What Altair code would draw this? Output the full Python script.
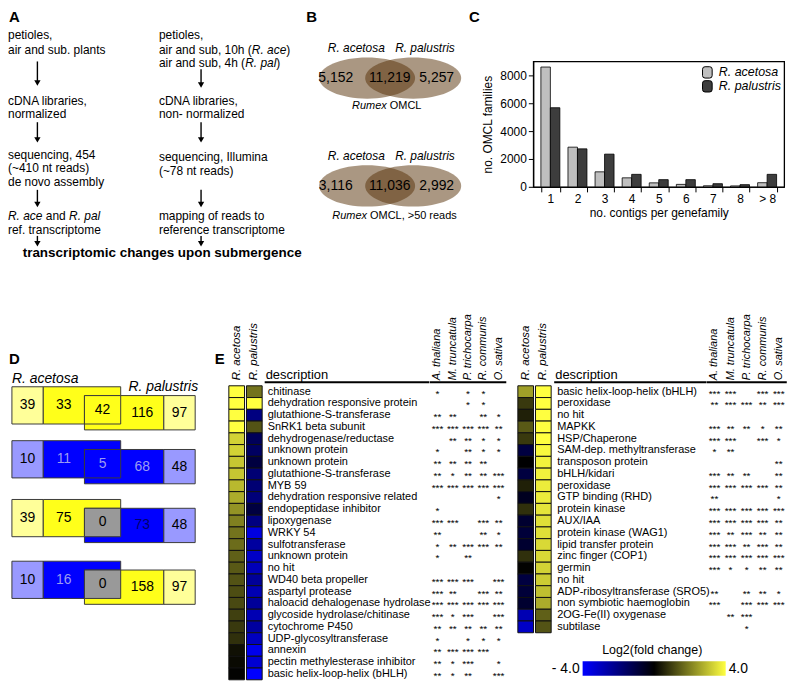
import altair as alt
import pandas as pd

FONT = "Liberation Sans"
K = 0.985          # reference pixel -> chart pixel
ROW = 12 * K       # table row height

# ====================== DATA ======================
# Panel A (flow chart text: (segment, italic))
flow_left = [
    [("petioles,", 0)],
    [("air and sub. plants", 0)],
    [("cDNA libraries,", 0)],
    [("normalized", 0)],
    [("sequencing, 454", 0)],
    [("(~410 nt reads)", 0)],
    [("de novo assembly", 0)],
    [("R. ace", 1), (" and ", 0), ("R. pal", 1)],
    [("ref. transcriptome", 0)],
]
flow_right = [
    [("petioles,", 0)],
    [("air and sub, 10h (", 0), ("R. ace", 1), (")", 0)],
    [("air and sub, 4h (", 0), ("R. pal", 1), (")", 0)],
    [("cDNA libraries,", 0)],
    [("non- normalized", 0)],
    [("sequencing, Illumina", 0)],
    [("(~78 nt reads)", 0)],
    [("mapping of reads to", 0)],
    [("reference transcriptome", 0)],
]
flow_result = "transcriptomic changes upon submergence"

# Panel B
venn_species = ["R. acetosa", "R. palustris"]
venn_counts = [["5,152", "11,219", "5,257"], ["3,116", "11,036", "2,992"]]
venn_titles = [[("Rumex", 1), (" OMCL", 0)], [("Rumex", 1), (" OMCL, >50 reads", 0)]]

# Panel C
contig_bins = ["1", "2", "3", "4", "5", "6", "7", "8", "> 8"]
fam_acetosa = [8600, 2850, 1080, 650, 290, 180, 80, 70, 300]
fam_palustris = [5680, 2730, 2350, 900, 520, 520, 230, 160, 900]

# Panel D
d_counts = [[39, 33, 42, 116, 97], [10, 11, 5, 68, 48], [39, 75, 0, 73, 48], [10, 16, 0, 158, 97]]
d_direction = [("up", "up"), ("down", "down"), ("up", "down"), ("down", "up")]

# Panel E
species5 = ["A. thaliana", "M. truncatula", "P. trichocarpa", "R. communis", "O. sativa"]
left_desc = [
    "chitinase", "dehydration responsive protein", "glutathione-S-transferase", "SnRK1 beta subunit",
    "dehydrogenase/reductase", "unknown protein", "unknown protein", "glutathione-S-transferase",
    "MYB 59", "dehydration responsive related", "endopeptidase inhibitor", "lipoxygenase", "WRKY 54",
    "sulfotransferase", "unknown protein", "no hit", "WD40 beta propeller", "aspartyl protease",
    "haloacid dehalogenase hydrolase", "glycoside hydrolase/chitinase", "cytochrome P450",
    "UDP-glycosyltransferase", "annexin", "pectin methylesterase inhibitor", "basic helix-loop-helix (bHLH)",
]
left_acetosa = [4.0, 4.0, 4.0, 4.0, 3.3, 3.3, 3.1, 3.1, 2.9, 2.7, 2.3, 2.0, 1.8,
                1.7, 1.5, 1.4, 1.3, 1.2, 1.15, 1.0, 0.9, 0.75, 0.25, 0.15, 0.05]
left_palustris = [1.8, 4.0, -2.0, 1.3, -1.4, -1.5, -1.0, -1.8, -1.8, -1.9, -1.0, -2.0, -3.5,
                  -2.5, -3.1, -2.9, -2.4, -2.8, -2.4, -2.8, -2.5, -3.0, -3.7, -3.3, -4.0]
left_stars = [
    ["*", "", "*", "*", ""], ["", "", "*", "*", ""], ["**", "**", "", "**", "*"],
    ["***", "***", "***", "***", "**"], ["", "**", "**", "*", "*"], ["*", "", "**", "*", "*"],
    ["**", "**", "**", "**", ""], ["**", "*", "**", "**", "***"], ["***", "***", "***", "***", "***"],
    ["", "", "", "", "*"], ["*", "", "", "", ""], ["***", "***", "", "***", "**"],
    ["**", "", "", "**", "*"], ["*", "**", "***", "***", "**"], ["*", "", "**", "", ""],
    ["", "", "", "", ""], ["***", "***", "***", "", "***"], ["***", "**", "", "***", "**"],
    ["***", "***", "***", "***", "***"], ["***", "*", "***", "", "***"], ["**", "**", "**", "**", "**"],
    ["*", "", "*", "*", "*"], ["**", "***", "***", "***", ""], ["**", "*", "***", "", "*"],
    ["**", "*", "**", "", "***"],
]
right_desc = [
    "basic helix-loop-helix (bHLH)", "peroxidase", "no hit", "MAPKK", "HSP/Chaperone",
    "SAM-dep. methyltransferase", "transposon protein", "bHLH/kidari", "peroxidase",
    "GTP binding (RHD)", "protein kinase", "AUX/IAA", "protein kinase (WAG1)", "lipid transfer protein",
    "zinc finger (COP1)", "germin", "no hit", "ADP-ribosyltransferase (SRO5)",
    "non symbiotic haemoglobin", "2OG-Fe(II) oxygenase", "subtilase",
]
right_acetosa = [2.5, 0.9, 0.5, 1.4, 0.9, -1.0, 0.0, -1.0, 0.5, -0.5, 0.75, -0.75, -0.9, -0.75,
                 0.75, 0.05, -1.0, -0.9, -0.75, -2.8, -3.1]
right_palustris = [4.0, 4.0, 4.0, 4.0, 4.0, 3.9, 3.8, 3.8, 3.7, 3.7, 3.6, 3.5, 3.5, 3.4,
                   3.4, 3.3, 3.2, 3.0, 2.7, 1.5, 1.3]
right_stars = [
    ["***", "***", "", "***", "***"], ["**", "***", "***", "**", "***"], ["", "", "", "", ""],
    ["***", "**", "**", "*", "**"], ["***", "***", "", "***", "*"], ["*", "**", "", "", ""],
    ["", "", "", "", "**"], ["***", "**", "**", "", "**"], ["***", "***", "***", "***", "**"],
    ["**", "", "", "", "*"], ["***", "***", "***", "***", "***"], ["***", "***", "***", "***", "**"],
    ["***", "**", "***", "**", "**"], ["***", "***", "**", "***", "**"], ["***", "***", "***", "***", "***"],
    ["***", "*", "*", "**", "**"], ["", "", "", "", ""], ["**", "", "**", "**", "*"],
    ["***", "", "***", "***", "***"], ["", "**", "***", "", ""], ["", "", "*", "", ""],
]
legend_title = "Log2(fold change)"
legend_ends = ["- 4.0", "4.0"]

# ====================== helpers ======================
CW = {c: 556 for c in "0123456789"}
CW.update({" ": 278, ",": 278, ".": 278, "(": 333, ")": 333, "-": 333, "~": 584, ">": 584, "/": 278})
CW.update(dict(A=667, B=667, C=722, D=722, E=667, F=611, G=778, H=722, I=278, J=500, K=667, L=556, M=833,
               N=722, O=778, P=667, Q=778, R=722, S=667, T=611, U=722, V=667, W=944, X=667, Y=667, Z=611))
CW.update(dict(a=556, b=556, c=500, d=556, e=556, f=278, g=556, h=556, i=222, j=222, k=500, l=222, m=833,
               n=556, o=556, p=556, q=556, r=333, s=500, t=278, u=556, v=500, w=722, x=500, y=500, z=500))


def tw(s, size):
    return sum(CW.get(c, 556) for c in s) * size / 1000.0


def build_line(segs, x0, y, size, anchor="left"):
    full = "".join(t for t, _ in segs)
    if anchor == "center":
        x0 = x0 - tw(full, size) / K / 2
    out, pre = [], ""
    for t, it in segs:
        lead = len(t) - len(t.lstrip(" "))
        out.append({"t": t.strip(), "x": x0 + tw(pre + t[:lead], size) / K, "y": y, "it": it})
        pre += t
    return out


def one():
    return pd.DataFrame({"a": [0]})


def txt(df, scx, scy, size, **kw):
    return alt.Chart(df).mark_text(baseline="middle", fontSize=size, font=FONT, color="black", **kw).encode(
        x=alt.X("x:Q", scale=scx, axis=None), y=alt.Y("y:Q", scale=scy, axis=None), text="t:N")


# ====================== layout (reference pixel units) ======================
TOP_Y = (55, 183)          # frame of panel C = reference band of top row
A_X = (3, 300)
B_X = (300, 538)
C_X = (538, 794)
BOT_Y0 = 387
cols_bottom = [3, 226, 264, 432, 519, 558, 713, 795]
ROW_GAP = 54               # spacing between the bounding boxes of the two rows

sAx = alt.Scale(domain=list(A_X), nice=False, zero=False)
sTy = alt.Scale(domain=list(TOP_Y), nice=False, zero=False, reverse=True)
H_TOP = (TOP_Y[1] - TOP_Y[0]) * K

# ---------------- Panel A ----------------
yl = [28, 43, 95, 109, 150, 164, 178, 213, 227]
yr = [28, 43, 57, 95, 109, 153, 167, 213, 227]
rowsA = []
for segs, y in zip(flow_left, yl):
    rowsA += build_line(segs, 3, y, 12)
for segs, y in zip(flow_right, yr):
    rowsA += build_line(segs, 157, y, 12)
dfA = pd.DataFrame(rowsA)
arrows = pd.DataFrame(
    [{"x": 33, "y1": a, "y2": b} for a, b in [(55, 80), (117, 138), (186, 204), (233, 244)]] +
    [{"x": 200, "y1": a, "y2": b} for a, b in [(63, 82), (117, 138), (186, 204), (233, 244)]])
arrows["yr"] = arrows["y2"] - 4
arrows["yh"] = arrows["y2"] - 3

panelA = alt.layer(
    txt(dfA[dfA.it == 0], sAx, sTy, 12, align="left"),
    txt(dfA[dfA.it == 1], sAx, sTy, 12, align="left", fontStyle="italic"),
    alt.Chart(arrows).mark_rule(color="black", strokeWidth=1.4).encode(
        x=alt.X("x:Q", scale=sAx, axis=None), y=alt.Y("y1:Q", scale=sTy, axis=None), y2="yr:Q"),
    alt.Chart(arrows).mark_point(shape="triangle-down", filled=True, size=40, color="black", opacity=1).encode(
        x=alt.X("x:Q", scale=sAx, axis=None), y=alt.Y("yh:Q", scale=sTy, axis=None)),
    txt(pd.DataFrame([{"t": flow_result, "x": 18, "y": 250}]), sAx, sTy, 13.5, align="left", fontWeight="bold"),
    txt(pd.DataFrame([{"t": "A", "x": 4, "y": 10}]), sAx, sTy, 15, align="left", fontWeight="bold"),
).properties(width=(A_X[1] - A_X[0]) * K, height=H_TOP)

# ---------------- Panel B ----------------
sBx = alt.Scale(domain=list(B_X), nice=False, zero=False)
VENN_CY = [72, 182]
VENN_CX = [369, 416]
RX, RY = 49, 21
r = RY / RX
kk = 0.5523
ELLIPSE = (f"M 1 0 C 1 {kk*r:.4f} {kk} {r:.4f} 0 {r:.4f} C {-kk} {r:.4f} -1 {kk*r:.4f} -1 0 "
           f"C -1 {-kk*r:.4f} {-kk} {-r:.4f} 0 {-r:.4f} C {kk} {-r:.4f} 1 {-kk*r:.4f} 1 0 Z")
COUNT_X = [337, 392, 440]
LABEL_X = [358, 428]
CAP = [(389, 100), (397, 213)]

dfEll = pd.DataFrame([{"x": cx, "y": cy} for cy in VENN_CY for cx in VENN_CX])
dfCnt = pd.DataFrame([{"x": COUNT_X[j], "y": VENN_CY[i], "t": venn_counts[i][j]} for i in range(2) for j in range(3)])
dfSp = pd.DataFrame([{"x": LABEL_X[j], "y": VENN_CY[i] - 31, "t": venn_species[j]} for i in range(2) for j in range(2)])
capRows = []
for i in range(2):
    capRows += build_line(venn_titles[i], CAP[i][0], CAP[i][1], 11, anchor="center")
dfCap = pd.DataFrame(capRows)

panelB = alt.layer(
    alt.Chart(dfEll).mark_point(shape=ELLIPSE, filled=True, size=(2 * RX * K) ** 2, color="#553005",
                                opacity=0.5, strokeWidth=0).encode(
        x=alt.X("x:Q", scale=sBx, axis=None), y=alt.Y("y:Q", scale=sTy, axis=None)),
    txt(dfCnt, sBx, sTy, 14, align="center"),
    txt(dfSp, sBx, sTy, 12, align="center", fontStyle="italic"),
    txt(dfCap[dfCap.it == 1], sBx, sTy, 11, align="left", fontStyle="italic"),
    txt(dfCap[dfCap.it == 0], sBx, sTy, 11, align="left"),
    txt(pd.DataFrame([{"t": "B", "x": 307, "y": 10}, {"t": "C", "x": 473, "y": 10}]), sBx, sTy, 15,
        align="left", fontWeight="bold"),
).properties(width=(B_X[1] - B_X[0]) * K, height=H_TOP)

# ---------------- Panel C ----------------
dfC = pd.DataFrame({"bin": contig_bins * 2,
                    "sp": [venn_species[0]] * len(contig_bins) + [venn_species[1]] * len(contig_bins),
                    "n": fam_acetosa + fam_palustris})
SYM = ("M -0.85 -0.55 Q -0.85 -1 -0.4 -1 L 0.4 -1 Q 0.85 -1 0.85 -0.55 L 0.85 0.55 "
       "Q 0.85 1 0.4 1 L -0.4 1 Q -0.85 1 -0.85 0.55 Z")
panelC = alt.Chart(dfC).mark_bar(stroke="black", strokeWidth=0.8).encode(
    x=alt.X("bin:N", sort=contig_bins, scale=alt.Scale(paddingInner=0.3, paddingOuter=0.28),
            axis=alt.Axis(title="no. contigs per genefamily", labelAngle=0, tickBand="extent", tickSize=5,
                          labelFontSize=12, titleFontSize=12, labelPadding=2, titlePadding=3,
                          titleFontWeight="normal")),
    xOffset=alt.XOffset("sp:N", sort=venn_species, scale=alt.Scale(paddingInner=0, paddingOuter=0)),
    y=alt.Y("n:Q", scale=alt.Scale(domain=[0, 9000], nice=False),
            axis=alt.Axis(values=[0, 2000, 4000, 6000, 8000], format="d", title="no. OMCL families",
                          grid=False, tickSize=5, labelFontSize=12, titleFontSize=12, labelPadding=2,
                          titlePadding=5, titleFontWeight="normal")),
    fill=alt.Fill("sp:N", scale=alt.Scale(domain=venn_species, range=["#bfbfbf", "#3d3d3d"]),
                  legend=alt.Legend(title=None, orient="none", legendX=(709 - 538) * K, legendY=4,
                                    padding=0, labelFontSize=12.5, labelFontStyle="italic",
                                    symbolType=SYM, symbolSize=130, symbolStrokeColor="black",
                                    symbolStrokeWidth=1, rowPadding=0, clipHeight=14, labelOffset=5,
                                    labelColor="black")),
).properties(width=(C_X[1] - C_X[0]) * K, height=H_TOP,
             view=alt.ViewBackground(stroke="black", strokeWidth=1.3))

# ---------------- Panel D ----------------
sDx = alt.Scale(domain=[cols_bottom[0], cols_bottom[1]], nice=False, zero=False)
sDy = alt.Scale(domain=[BOT_Y0, BOT_Y0 + 25 * 12], nice=False, zero=False, reverse=True)
ACE_TOP = [388, 443, 503, 566]
ACE_H, PAL_DY, PAL_H = 38, 9, 35
LIGHT = {"up": "#ffff99", "down": "#9999ff"}
MAIN = {"up": "#ffff1a", "down": "#0000ff"}
K_, L_, N_ = "black", "#9c9cf2", "#00006a"
d_text_colors = [[K_, K_, K_, K_, K_], [K_, L_, L_, L_, K_], [K_, K_, K_, N_, K_], [K_, L_, K_, K_, K_]]
rects, labs = [], []
for i, (da, dp) in enumerate(d_direction):
    at = ACE_TOP[i]
    ab = at + ACE_H
    pt = at + PAL_DY
    pb = pt + PAL_H
    ov = MAIN[da] if da == dp else "#999999"
    rects += [
        {"x": 7, "x2": 39, "y": at, "y2": ab, "fc": LIGHT[da]},
        {"x": 39, "x2": 118, "y": at, "y2": ab, "fc": MAIN[da]},
        {"x": 81, "x2": 162, "y": pt, "y2": pb, "fc": MAIN[dp]},
        {"x": 162, "x2": 194, "y": pt, "y2": pb, "fc": LIGHT[dp]},
        {"x": 81, "x2": 118, "y": pt, "y2": ab, "fc": ov},
    ]
    cy_a, cy_p, cy_o = (at + ab) / 2, (pt + pb) / 2, (pt + ab) / 2
    for j, (xx, yy) in enumerate([(23, cy_a), (60, cy_a), (99.5, cy_o), (140, cy_p), (178, cy_p)]):
        labs.append({"x": xx, "y": yy, "t": str(d_counts[i][j]), "tc": d_text_colors[i][j]})
dfR = pd.DataFrame(rects)
dfL = pd.DataFrame(labs)

panelD = alt.layer(
    alt.Chart(dfR).mark_rect(stroke="#3a3a3a", strokeWidth=1).encode(
        x=alt.X("x:Q", scale=sDx, axis=None), x2="x2:Q",
        y=alt.Y("y:Q", scale=sDy, axis=None), y2="y2:Q",
        fill=alt.Fill("fc:N", scale=None)),
    alt.Chart(dfL).mark_text(fontSize=14, font=FONT, align="center", baseline="middle").encode(
        x=alt.X("x:Q", scale=sDx, axis=None), y=alt.Y("y:Q", scale=sDy, axis=None), text="t:N",
        color=alt.Color("tc:N", scale=None)),
    txt(pd.DataFrame([{"t": "R. acetosa", "x": 7, "y": 380}, {"t": "R. palustris", "x": 126, "y": 388}]),
        sDx, sDy, 14, align="left", fontStyle="italic"),
    txt(pd.DataFrame([{"t": "D", "x": 4, "y": 360}, {"t": "E", "x": 214, "y": 360}]), sDx, sDy, 15,
        align="left", fontWeight="bold"),
).properties(width=(cols_bottom[1] - cols_bottom[0]) * K, height=25 * ROW)

# ---------------- Panel E ----------------
heat_scale = alt.Scale(domain=[-4, 0, 4], range=["#0000ff", "#000000", "#ffff40"], interpolate="rgb", clamp=True)


def heat(ace, pal, width, po):
    n = len(ace)
    df = pd.DataFrame({"idx": list(range(n)) * 2, "sp": [venn_species[0]] * n + [venn_species[1]] * n,
                       "v": ace + pal})
    return alt.Chart(df).mark_rect(stroke="#111111", strokeWidth=1).encode(
        x=alt.X("sp:N", sort=venn_species,
                scale=alt.Scale(type="band", domain=venn_species, paddingInner=0.111, paddingOuter=po),
                axis=alt.Axis(orient="top", title=None, labelAngle=270, labelAlign="left",
                              labelBaseline="middle", ticks=False, domain=False, labelFontStyle="italic",
                              labelFontSize=11.5, labelPadding=6, labelColor="black")),
        y=alt.Y("idx:O", scale=alt.Scale(type="band", domain=list(range(n)), paddingInner=0, paddingOuter=0),
                axis=None),
        color=alt.Color("v:Q", scale=heat_scale, legend=None),
    ).properties(width=width, height=n * ROW)


def desc(lines, width, line_w):
    n = len(lines)
    df = pd.DataFrame({"idx": list(range(n)), "d": lines})
    return alt.layer(
        alt.Chart(df).mark_text(align="left", baseline="middle", fontSize=11, font=FONT, color="black").encode(
            x=alt.value(3),
            y=alt.Y("idx:O", scale=alt.Scale(type="band", domain=list(range(n)), paddingInner=0, paddingOuter=0),
                    axis=None, bandPosition=0.5),
            text="d:N"),
        alt.Chart(one()).mark_text(text="description", align="left", baseline="alphabetic", fontSize=13,
                                   font=FONT, color="black").encode(x=alt.value(1), y=alt.value(-7)),
        alt.Chart(one()).mark_rule(color="black", strokeWidth=2).encode(
            x=alt.value(0), x2=alt.value(line_w), y=alt.value(-3.5)),
    ).properties(width=width, height=n * ROW)


def stars(table, width, po, line_w):
    n = len(table)
    rows = [{"idx": i, "sp": species5[j], "s": table[i][j]} for i in range(n) for j in range(5) if table[i][j]]
    df = pd.DataFrame(rows)
    return alt.layer(
        alt.Chart(df).mark_text(align="center", baseline="middle", fontSize=10, font=FONT, color="black",
                                dy=2).encode(
            x=alt.X("sp:N", sort=species5, bandPosition=0.5,
                    scale=alt.Scale(type="band", domain=species5, paddingInner=0, paddingOuter=po, align=0),
                    axis=alt.Axis(orient="top", title=None, labelAngle=270, labelAlign="left",
                                  labelBaseline="middle", ticks=False, domain=False, labelFontStyle="italic",
                                  labelFontSize=11, labelPadding=6, labelColor="black")),
            y=alt.Y("idx:O", scale=alt.Scale(type="band", domain=list(range(n)), paddingInner=0, paddingOuter=0),
                    axis=None, bandPosition=0.5),
            text="s:N"),
        alt.Chart(one()).mark_rule(color="black", strokeWidth=2).encode(
            x=alt.value(0), x2=alt.value(line_w), y=alt.value(-3.5)),
    ).properties(width=width, height=n * ROW)


cw = [(cols_bottom[i + 1] - cols_bottom[i]) * K for i in range(7)]
heatL = heat(left_acetosa, left_palustris, cw[1], 0.111)
descL = desc(left_desc, cw[2], cw[2])
starsL = stars(left_stars, cw[3], 0.288, (510 - 432) * K)
heatR = heat(right_acetosa, right_palustris, cw[4], 0.139)

grad = alt.LinearGradient(gradient="linear", x1=0, x2=1, y1=0, y2=0,
                          stops=[alt.GradientStop(color="#0000ff", offset=0),
                                 alt.GradientStop(color="#000000", offset=0.5),
                                 alt.GradientStop(color="#ffff40", offset=1)])
x0R, y0R = cols_bottom[5], BOT_Y0
legend_layers = [
    alt.Chart(one()).mark_text(text=legend_title, align="center", baseline="middle", fontSize=12.5,
                               font=FONT, color="black").encode(
        x=alt.value((658 - x0R) * K), y=alt.value((657 - y0R) * K)),
    alt.Chart(one()).mark_rect(fill=grad).encode(
        x=alt.value((587 - x0R) * K), x2=alt.value((733 - x0R) * K),
        y=alt.value((668 - y0R) * K), y2=alt.value((683 - y0R) * K)),
    alt.Chart(one()).mark_text(text=legend_ends[0], align="right", baseline="middle", fontSize=14,
                               font=FONT, color="black").encode(
        x=alt.value((584 - x0R) * K), y=alt.value((676 - y0R) * K)),
    alt.Chart(one()).mark_text(text=legend_ends[1], align="left", baseline="middle", fontSize=14,
                               font=FONT, color="black").encode(
        x=alt.value((736 - x0R) * K), y=alt.value((676 - y0R) * K)),
]
descR = alt.layer(desc(right_desc, cw[5], cw[5]), *legend_layers).properties(
    width=cw[5], height=len(right_desc) * ROW)
starsR = stars(right_stars, cw[6], 0.0, cw[6])

# ====================== assemble ======================
top = alt.hconcat(panelA, panelB, panelC, spacing=0, bounds="flush").resolve_scale(
    fill="independent", color="independent").resolve_legend(fill="independent")
bottom = alt.hconcat(panelD, heatL, descL, starsL, heatR, descR, starsR, spacing=0, bounds="flush").resolve_scale(
    fill="independent", color="independent")
chart = alt.vconcat(top, bottom, spacing=ROW_GAP, bounds="full", padding=0).resolve_scale(
    fill="independent", color="independent").resolve_legend(fill="independent").configure(
    font=FONT).configure_view(stroke=None).configure_axis(
    labelFont=FONT, titleFont=FONT, labelColor="black", titleColor="black", domainColor="black",
    tickColor="black")

chart.save("out.html", embed_options={"renderer": "svg", "actions": False})
